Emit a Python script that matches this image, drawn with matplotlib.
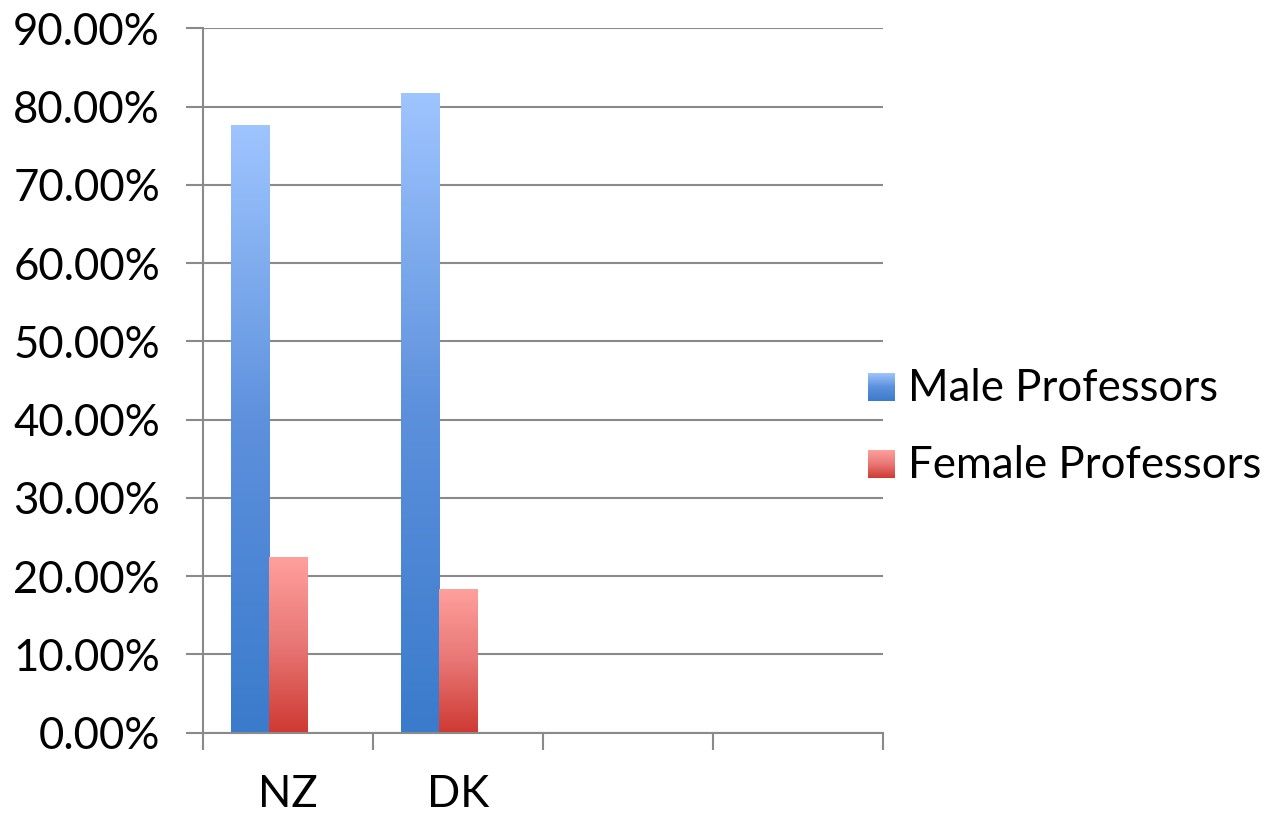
import matplotlib
matplotlib.use("Agg")
import matplotlib.pyplot as plt
import numpy as np
from matplotlib.colors import LinearSegmentedColormap
from matplotlib.patches import Rectangle
from matplotlib.ticker import FuncFormatter, MultipleLocator, FixedLocator

plt.rcParams['font.family'] = ['Lato', 'DejaVu Sans']

countries = ["NZ", "DK"]
male_share = [0.776, 0.817]
female_share = [0.224, 0.183]
series_names = ["Male Professors", "Female Professors"]
n_slots = 4

male_cmap = LinearSegmentedColormap.from_list("male", ["#3b7bcc", "#5c90dc", "#9fc5ff"])
female_cmap = LinearSegmentedColormap.from_list("female", ["#cf3a33", "#e87775", "#ffa09d"])
grid_col = "#8a8a8a"
fs = 31.5

fig = plt.figure(figsize=(12.68, 8.13), dpi=100)
ax = fig.add_axes([203 / 1268, 1 - 732.5 / 813, 680 / 1268, 704 / 813])

grad = np.linspace(0, 1, 256).reshape(-1, 1)


def gradient_bar(ax, x0, width, height, cmap):
    rect = Rectangle((x0, 0), width, height, facecolor="none", edgecolor="none")
    ax.add_patch(rect)
    im = ax.imshow(grad, cmap=cmap, origin="lower", aspect="auto",
                   extent=(x0, x0 + width, 0, height), zorder=3)
    im.set_clip_path(rect)


w = 0.225
for i, (m, f) in enumerate(zip(male_share, female_share)):
    c = i + 0.5
    gradient_bar(ax, c - 1.5 * w, w, m, male_cmap)
    gradient_bar(ax, c - 0.5 * w, w, f, female_cmap)

ax.set_xlim(0, n_slots)
ax.set_ylim(0, 0.9)
ax.yaxis.set_major_locator(MultipleLocator(0.1))
ax.yaxis.set_major_formatter(FuncFormatter(lambda v, _: f"{v * 100:.2f}%"))
ax.grid(axis="y", color=grid_col, linewidth=1.5, zorder=0)
ax.set_axisbelow(True)

ax.xaxis.set_major_locator(FixedLocator([i + 0.5 for i in range(len(countries))]))
ax.set_xticklabels(countries)
ax.xaxis.set_minor_locator(FixedLocator(np.arange(n_slots + 1)))
ax.tick_params(axis="x", which="major", length=0, labelsize=fs, pad=30)
ax.tick_params(axis="x", which="minor", length=12, width=1.5, color=grid_col, direction="out")
ax.tick_params(axis="y", length=12, width=1.5, color=grid_col, labelsize=fs, pad=19)

for side in ("top", "right"):
    ax.spines[side].set_visible(False)
for side in ("left", "bottom"):
    ax.spines[side].set_color(grid_col)
    ax.spines[side].set_linewidth(1.5)

# legend swatches with the same gradients
cmaps = [male_cmap, female_cmap]
sw_tops = [373, 450]
for name, cmap, top in zip(series_names, cmaps, sw_tops):
    sw = fig.add_axes([868 / 1268, 1 - (top + 28) / 813, 27 / 1268, 28 / 813])
    sw.imshow(grad, cmap=cmap, origin="lower", aspect="auto")
    sw.axis("off")
    fig.text(908 / 1268, 1 - (top + 15) / 813, name, fontsize=fs, va="center", ha="left")

fig.savefig("out.png", dpi=100)
